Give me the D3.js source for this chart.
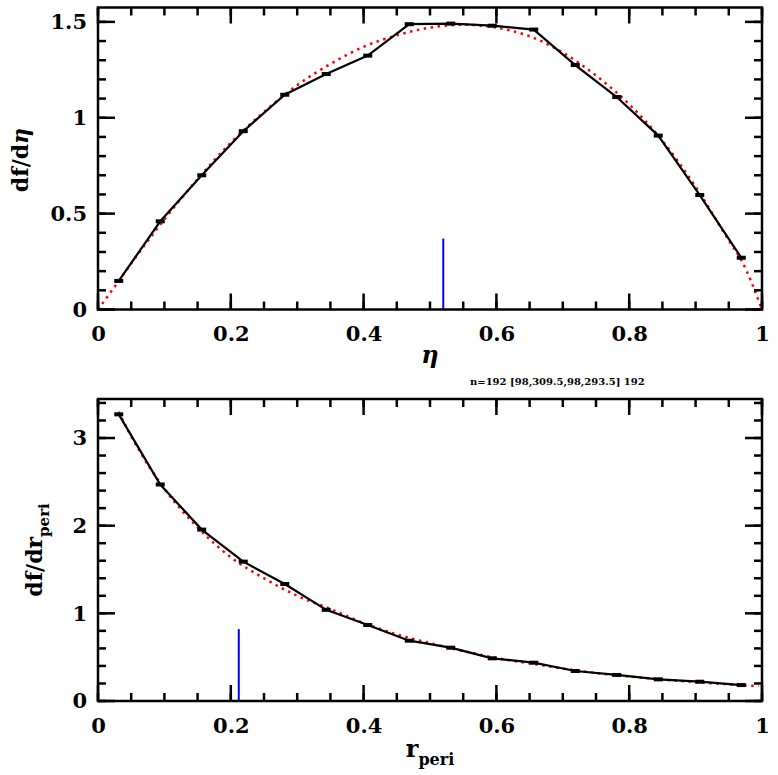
<!DOCTYPE html>
<html><head><meta charset="utf-8">
<script src="https://cdn.jsdelivr.net/npm/d3@7"></script>
<style>
html,body{margin:0;padding:0;background:#fff;}
svg{display:block;}
text{font-family:"DejaVu Serif",serif;font-weight:bold;fill:#000;}
</style></head>
<body><svg id="c" width="778" height="775"></svg>
<script>
// ---- data ----
const binCenters = [0.03125,0.09375,0.15625,0.21875,0.28125,0.34375,0.40625,0.46875,0.53125,0.59375,0.65625,0.71875,0.78125,0.84375,0.90625,0.96875];
const etaValues = [0.149,0.46,0.70,0.93,1.12,1.228,1.324,1.488,1.491,1.48,1.46,1.275,1.108,0.907,0.597,0.27];
const rperiValues = [3.27,2.47,1.955,1.59,1.335,1.04,0.867,0.688,0.608,0.487,0.437,0.342,0.297,0.247,0.22,0.182];
const etaModelX = [0,0.0315,0.05,0.1,0.15,0.2,0.25,0.3,0.35,0.4,0.45,0.5,0.55,0.6,0.65,0.7,0.75,0.8,0.85,0.9,0.95,0.97,1.0];
const etaModelY = [0,0.15,0.24,0.47,0.68,0.87,1.03,1.17,1.28,1.37,1.43,1.47,1.485,1.47,1.425,1.34,1.22,1.07,0.88,0.64,0.36,0.25,0];
const rperiModelX = [0.012,0.02,0.031,0.05,0.1,0.15,0.2,0.25,0.3,0.35,0.4,0.45,0.5,0.55,0.6,0.65,0.7,0.75,0.8,0.85,0.9,0.95,0.995];
const rperiModelY = [3.62,3.45,3.30,3.02,2.42,1.98,1.64,1.40,1.20,1.05,0.89,0.76,0.66,0.57,0.49,0.43,0.37,0.32,0.28,0.245,0.215,0.19,0.17];
const etaMarker = {x:0.52, y:0.37};
const rperiMarker = {x:0.212, y:0.82};
const xTicks = [0,0.2,0.4,0.6,0.8,1];
const xMinor = [0,0.05,0.1,0.15,0.2,0.25,0.3,0.35,0.4,0.45,0.5,0.55,0.6,0.65,0.7,0.75,0.8,0.85,0.9,0.95,1];
const etaYTicks = [0,0.5,1,1.5];
const etaYMinor = [0,0.1,0.2,0.3,0.4,0.5,0.6,0.7,0.8,0.9,1,1.1,1.2,1.3,1.4,1.5];
const rperiYTicks = [0,1,2,3];
const rperiYMinor = [0,0.2,0.4,0.6,0.8,1,1.2,1.4,1.6,1.8,2,2.2,2.4,2.6,2.8,3,3.2,3.4];

const svg = d3.select("#c");
const L = 98, R = 762;
const tickList = [];

function panel(cfg){
  const g = svg.append("g");
  const x = d3.scaleLinear().domain([0,1]).range([L,R]);
  const y = d3.scaleLinear().domain([0,cfg.ymax]).range([cfg.bottom,cfg.top]);

  const fmt = d => d3.format("")(d);
  const xa = g.append("g").attr("transform",`translate(0,${cfg.bottom})`)
    .call(d3.axisBottom(x).tickValues(cfg.xTicks).tickSize(0).tickFormat(fmt).tickPadding(17));
  const ya = g.append("g").attr("transform",`translate(${L},0)`)
    .call(d3.axisLeft(y).tickValues(cfg.yTicks).tickSize(0).tickFormat(fmt).tickPadding(11));
  [xa,ya].forEach(a=>{
    a.select(".domain").remove();
    a.selectAll(".tick line").remove();
    a.selectAll("text").attr("font-size",21).attr("font-family","DejaVu Serif").attr("font-weight","bold");
  });

  cfg.xTicks.forEach(v=>{
    tickList.push([x(v),cfg.bottom,x(v),cfg.bottom-16]);
    tickList.push([x(v),cfg.top,x(v),cfg.top+16]);
  });
  xMinor.forEach(v=>{
    tickList.push([x(v),cfg.bottom,x(v),cfg.bottom-8]);
    tickList.push([x(v),cfg.top,x(v),cfg.top+8]);
  });
  cfg.yTicks.forEach(v=>{
    tickList.push([L,y(v),L+17,y(v)]);
    tickList.push([R,y(v),R-17,y(v)]);
  });
  cfg.yMinor.forEach(v=>{
    tickList.push([L,y(v),L+8,y(v)]);
    tickList.push([R,y(v),R-8,y(v)]);
  });

  // model curve: keep only points inside the plot range (no clip-path)
  const mpts = d3.zip(cfg.mx,cfg.my).filter(d=>d[1]<=cfg.ymax);
  const line = d3.line().x(d=>x(d[0])).y(d=>y(d[1])).curve(d3.curveMonotoneX);
  g.append("path").datum(mpts).attr("d",line)
    .attr("fill","none").attr("stroke","#ff0000").attr("stroke-width",2.5)
    .attr("stroke-dasharray","2.5 4.5");

  const dl = d3.line().x(d=>x(d[0])).y(d=>y(d[1]));
  g.append("path").datum(d3.zip(binCenters,cfg.vals)).attr("d",dl)
    .attr("fill","none").attr("stroke","#000").attr("stroke-width",2.2);
  g.selectAll("rect.m").data(d3.zip(binCenters,cfg.vals)).enter().append("rect")
    .attr("x",d=>x(d[0])-4.5).attr("y",d=>y(d[1])-2).attr("width",9).attr("height",4).attr("fill","#000");

  g.append("line").attr("x1",x(cfg.marker.x)).attr("x2",x(cfg.marker.x))
    .attr("y1",y(0)).attr("y2",y(cfg.marker.y)).attr("stroke","#0000ff").attr("stroke-width",2);

  g.append("rect").attr("x",L).attr("y",cfg.top).attr("width",R-L).attr("height",cfg.bottom-cfg.top)
    .attr("fill","none").attr("stroke","#000").attr("stroke-width",2.5);
}

panel({id:1, top:7.5, bottom:309.5, ymax:1.575, xTicks, yTicks:etaYTicks, yMinor:etaYMinor,
  vals:etaValues, mx:etaModelX, my:etaModelY, marker:etaMarker});
panel({id:2, top:399, bottom:701, ymax:3.445, xTicks, yTicks:rperiYTicks, yMinor:rperiYMinor,
  vals:rperiValues, mx:rperiModelX, my:rperiModelY, marker:rperiMarker});

const tg = svg.append("g").attr("class","ticks");
tickList.forEach(t=>{
  tg.append("line").attr("x1",t[0]).attr("y1",t[1]).attr("x2",t[2]).attr("y2",t[3])
    .attr("stroke","#000").attr("stroke-width",2.5);
});

function centered(sel){
  const len = sel.node().getComputedTextLength();
  sel.attr("x",-len/2);
}

const xl1 = svg.append("text").attr("y",363).attr("font-size",24);
xl1.append("tspan").attr("font-style","italic").text("η");
xl1.attr("x",430 - xl1.node().getComputedTextLength()/2);

const yl1g = svg.append("g").attr("transform","translate(28,160) rotate(-90)");
const yl1 = yl1g.append("text").attr("font-size",22);
yl1.append("tspan").text("df/d");
yl1.append("tspan").attr("font-style","italic").text("η");
centered(yl1);

const xl2 = svg.append("text").attr("y",757).attr("font-size",24);
xl2.append("tspan").text("r");
xl2.append("tspan").attr("font-size",16).attr("dy",8).text("peri");
xl2.attr("x",430 - xl2.node().getComputedTextLength()/2);

const yl2g = svg.append("g").attr("transform","translate(42,550) rotate(-90)");
const yl2 = yl2g.append("text").attr("font-size",22);
yl2.append("tspan").text("df/dr");
yl2.append("tspan").attr("font-size",15).attr("dy",7).text("peri");
centered(yl2);

svg.append("text").attr("x",470).attr("y",385).attr("font-size",10)
  .text("n=" + tickList.length + " " + JSON.stringify(tickList[0]) + " " + tg.selectAll("line").size());
</script></body></html>
